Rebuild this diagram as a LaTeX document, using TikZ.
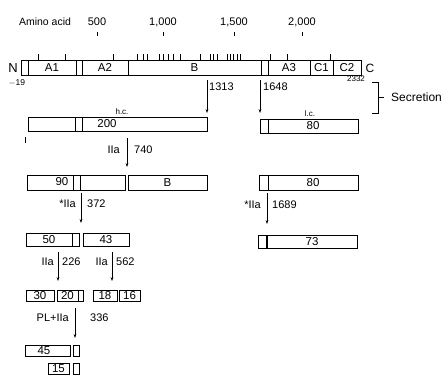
\documentclass[tikz,border=0pt]{standalone}
\usepackage{fontspec}
\setmainfont{Liberation Sans}
\usetikzlibrary{arrows.meta}
\newcommand\bx[6]{\node[seg,minimum width={(#4-#2)*1pt},minimum height={(#5-#3)*1pt}] (#1) at ({(#2+#4)/2},{(#3+#5)/2}) {#6};}
\begin{document}
\begin{tikzpicture}[x=1pt,y=-1pt,
  seg/.style={draw,line width=0.8pt,rectangle,inner sep=0pt,outer sep=0pt,font=\fontsize{11.5}{11.5}\selectfont},
  txt/.style={inner sep=0pt,font=\fontsize{11}{11}\selectfont},
  small/.style={inner sep=0pt,font=\fontsize{8}{8}\selectfont},
  cut/.style={line width=0.7pt,-{Stealth[length=4pt,width=2.8pt]}},
  tick/.style={line width=0.7pt}]
\useasboundingbox (0,0) rectangle (444,378);

% amino-acid scale
\node[txt,font=\fontsize{10.5}{10.5}\selectfont] (aa) at (45,22) {Amino acid};
\node[txt] (s500) at (97,22) {500};
\node[txt] (s1000) at (163,22) {1,000};
\node[txt] (s1500) at (234,22) {1,500};
\node[txt] (s2000) at (302,22) {2,000};
\foreach \x in {97,163,234,302} \draw[tick] (\x,32) -- (\x,36);

% precursor chain with domains
\node[txt,font=\fontsize{13}{13}\selectfont] (nterm) at (13,68) {N};
\bx{p0}{21}{60}{28}{75}{}
\bx{a1}{28}{60}{76}{75}{A1}
\bx{p1}{76}{60}{82}{75}{}
\bx{a2}{82}{60}{128}{75}{A2}
\bx{bdom}{128}{60}{261}{75}{B}
\bx{p2}{261}{60}{268}{75}{}
\bx{a3}{268}{60}{310}{75}{A3}
\bx{c1}{310}{60}{333}{75}{C1}
\bx{c2}{333}{60}{361}{75}{C2}
\node[txt,font=\fontsize{12}{12}\selectfont] (cterm) at (370,68) {C};
\foreach \x in {38,65,113,137,143,147,159,163,168,173,180,200,210,213,217,227,230,233,237,240,270,287,330}
  \draw[tick] (\x,54) -- (\x,60);
\node[small,font=\fontsize{8.5}{8.5}\selectfont] (m19) at (17,83) {$-$19};
\node[small] (e2332) at (356,79) {2332};

% secretion cleavages
\coordinate (k1a) at (207,80); \coordinate (k1b) at (207,113);
\coordinate (k2a) at (260,80); \coordinate (k2b) at (260,113);
\draw[cut] (k1a) -- (k1b);
\draw[cut] (k2a) -- (k2b);
\node[txt,anchor=west] (l1313) at (209,87) {1313};
\node[txt,anchor=west] (l1648) at (263,87) {1648};

% secretion bracket
\coordinate (bt) at (372,82); \coordinate (bb) at (372,113);
\coordinate (bm) at (378,97); \coordinate (bm2) at (384,97);
\draw[line width=0.9pt] (bt) -| (378,113) -- (bb);
\draw[line width=0.9pt] (bm) -- (bm2);
\node[txt,anchor=west,font=\fontsize{12}{12}\selectfont] (secr) at (391,97) {Secretion};

% heavy and light chains
\bx{h0}{28}{117}{75}{131}{}
\bx{h1}{75}{117}{82}{131}{}
\bx{h2}{82}{117}{207}{131}{}
\node[txt,font=\fontsize{11.5}{11.5}\selectfont] (t200) at (107,124) {200};
\node[small] (hc) at (122,112) {h.c.};
\draw[tick] (25,137) -- (25,143);
\bx{l0}{260}{119}{268}{133}{}
\bx{l1}{268}{119}{358}{133}{80}
\node[small] (lc) at (310,114) {l.c.};

% thrombin cleavage at 740
\coordinate (k3a) at (127,138); \coordinate (k3b) at (127,167);
\draw[cut] (k3a) -- (k3b);
\node[txt,anchor=east] (e740) at (120,150) {IIa};
\node[txt,anchor=west] (l740) at (134,150) {740};

% 90 kDa, B and 80 kDa fragments
\bx{n0}{27}{175}{73}{190}{}
\bx{n1}{73}{175}{80}{190}{}
\bx{n2}{80}{175}{125}{190}{}
\node[txt,font=\fontsize{11.5}{11.5}\selectfont] (t90) at (62,182) {90};
\bx{bfr}{128}{175}{207}{190}{B}
\bx{r0}{259}{175}{268}{190}{}
\bx{r1}{268}{175}{358}{190}{80}

% activating cleavages at 372 and 1689
\coordinate (k4a) at (81,193); \coordinate (k4b) at (81,223);
\draw[cut] (k4a) -- (k4b);
\node[txt,anchor=east] (e372) at (76,204) {*IIa};
\node[txt,anchor=west] (l372) at (87,204) {372};
\coordinate (k5a) at (267,193); \coordinate (k5b) at (267,224);
\draw[cut] (k5a) -- (k5b);
\node[txt,anchor=east] (e1689) at (261,205) {*IIa};
\node[txt,anchor=west] (l1689) at (272,205) {1689};

% 50, 43 and 73 kDa fragments
\bx{f50}{26}{233}{72}{246}{50}
\bx{f50b}{72}{233}{79}{246}{}
\bx{f43}{83}{233}{129}{246}{43}
\bx{f73a}{258}{235}{266}{248}{}
\bx{f73}{267}{235}{357}{248}{73}

% cleavages at 226 and 562
\coordinate (k6a) at (58,252); \coordinate (k6b) at (58,281);
\draw[cut] (k6a) -- (k6b);
\node[txt,anchor=east] (e226) at (54,262) {IIa};
\node[txt,anchor=west] (l226) at (62,262) {226};
\coordinate (k7a) at (112,252); \coordinate (k7b) at (112,281);
\draw[cut] (k7a) -- (k7b);
\node[txt,anchor=east] (e562) at (108,262) {IIa};
\node[txt,anchor=west] (l562) at (116,262) {562};

% 30, 20, 18 and 16 kDa fragments
\bx{f30}{26}{290}{54}{301}{30}
\bx{f20}{57}{290}{78}{301}{20}
\bx{f20b}{78}{290}{83}{301}{}
\bx{f18}{93}{290}{117}{301}{18}
\bx{f16}{119}{290}{140}{301}{16}

% cleavage at 336
\coordinate (k8a) at (75,308); \coordinate (k8b) at (75,338);
\draw[cut] (k8a) -- (k8b);
\node[txt,anchor=east] (e336) at (69,318) {PL+IIa};
\node[txt,anchor=west] (l336) at (90,318) {336};

% 45 and 15 kDa fragments
\bx{f45}{25}{345}{70}{356}{}
\node[txt,font=\fontsize{11.5}{11.5}\selectfont] (t45) at (44,350.5) {45};
\bx{f45b}{73}{345}{79}{356}{}
\bx{f15}{48}{363}{69}{374}{15}
\bx{f15b}{73}{363}{79}{374}{}
\end{tikzpicture}
\end{document}
